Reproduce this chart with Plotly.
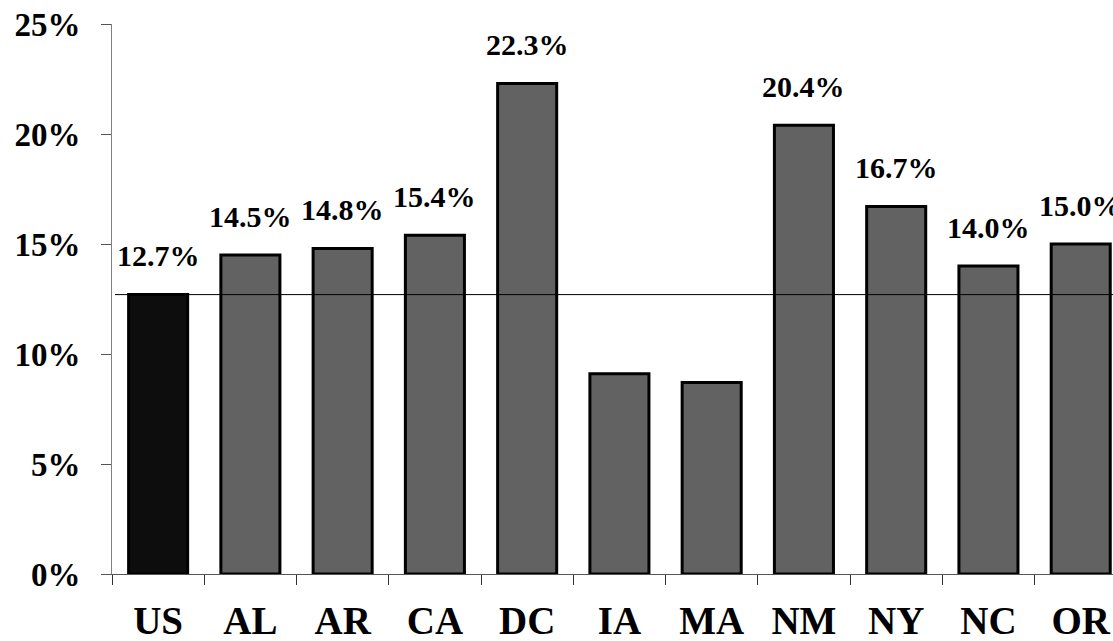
import plotly.graph_objects as go

categories = ["US", "AL", "AR", "CA", "DC", "IA", "MA", "NM", "NY", "NC", "OR"]
values = [12.7, 14.5, 14.8, 15.4, 22.3, 9.1, 8.7, 20.4, 16.7, 14.0, 15.0]
labels = ["12.7%", "14.5%", "14.8%", "15.4%", "22.3%", None, None, "20.4%", "16.7%", "14.0%", "15.0%"]
y_ticks = [0, 5, 10, 15, 20, 25]
y_tick_text = ["0%", "5%", "10%", "15%", "20%", "25%"]

FONT = "Liberation Serif"
colors = ["#0d0d0d"] + ["#626262"] * (len(categories) - 1)

fig = go.Figure()
fig.add_trace(go.Bar(
    x=categories, y=values, width=0.64,
    marker=dict(color=colors, line=dict(color="black", width=3)),
    hoverinfo="skip",
))

for c, v, t in zip(categories, values, labels):
    if t is None:
        continue
    fig.add_annotation(x=c, y=v, text=f"<b>{t}</b>", showarrow=False,
                       yshift=39, font=dict(family=FONT, size=30, color="black"))

fig.add_shape(type="line", xref="paper", yref="y", x0=0.003, x1=1,
              y0=values[0], y1=values[0], line=dict(color="black", width=1))

fig.update_layout(
    width=1113, height=641,
    margin=dict(l=112, r=0, t=24, b=67),
    plot_bgcolor="white", paper_bgcolor="white",
    showlegend=False,
    xaxis=dict(
        range=[-0.5, 10.35], tickson="boundaries", ticks="outside", ticklen=10,
        tickcolor="#333333", showline=True, linecolor="#555555", linewidth=1,
        showgrid=False, zeroline=False,
        tickfont=dict(family=FONT, size=39, color="black"),
        tickprefix="<b>", ticksuffix="</b>", ticklabelstandoff=12,
    ),
    yaxis=dict(
        range=[0, 25], tickvals=y_ticks, ticktext=[f"<b>{t}</b>" for t in y_tick_text],
        ticks="outside", ticklen=10, tickcolor="#555555",
        showline=True, linecolor="#808080", linewidth=1,
        showgrid=False, zeroline=False,
        tickfont=dict(family=FONT, size=33, color="black"),
        ticklabelstandoff=14,
    ),
)

fig.write_html("out.html", config={"displayModeBar": False},
               post_script="document.body.style.margin='0';document.body.style.overflow='hidden';")
